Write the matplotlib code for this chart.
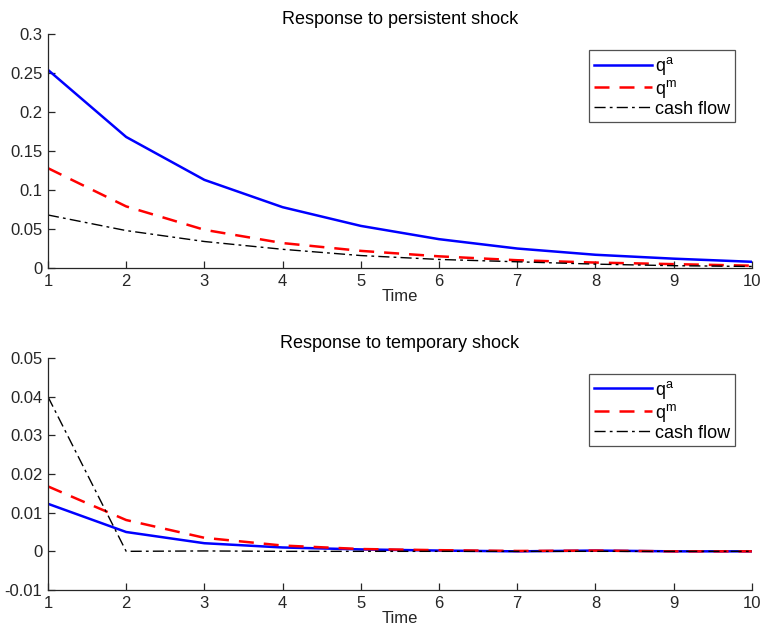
import matplotlib
matplotlib.use("Agg")
import matplotlib.pyplot as plt

plt.rcParams['font.family'] = ['Liberation Sans', 'DejaVu Sans']
plt.rcParams['mathtext.fontset'] = 'custom'
plt.rcParams['mathtext.rm'] = 'Liberation Sans'

time = [1, 2, 3, 4, 5, 6, 7, 8, 9, 10]

# Persistent shock
pers_qa = [0.254, 0.168, 0.113, 0.078, 0.054, 0.037, 0.025, 0.017, 0.012, 0.008]
pers_qm = [0.128, 0.079, 0.049, 0.032, 0.022, 0.015, 0.010, 0.007, 0.005, 0.003]
pers_cf = [0.068, 0.048, 0.034, 0.024, 0.016, 0.011, 0.008, 0.005, 0.003, 0.002]

# Temporary shock
temp_qa = [0.0123, 0.0050, 0.0021, 0.0010, 0.0005, 0.0002, 0.0000, 0.0002, 0.0000, 0.0000]
temp_qm = [0.0168, 0.0081, 0.0035, 0.0015, 0.0006, 0.0003, 0.0001, 0.0002, 0.0000, 0.0000]
temp_cf = [0.0400, 0.0000, 0.0001, 0.0000, 0.0000, 0.0000, 0.0000, 0.0000, 0.0000, 0.0000]

labels = [r'q$^{\mathrm{a}}$', r'q$^{\mathrm{m}}$', 'cash flow']
xticks = [1, 2, 3, 4, 5, 6, 7, 8, 9, 10]

fig = plt.figure(figsize=(7.61, 6.28), dpi=100)
ax1 = fig.add_axes([0.063, 0.5732, 0.925, 0.3727])
ax2 = fig.add_axes([0.063, 0.0605, 0.925, 0.3694])

def draw(ax, qa, qm, cf, title, ylim, yticks, yticklabels, legend_anchor):
    ax.plot(time, qa, color='#0000ff', lw=1.8, ls='-', label=labels[0])
    ax.plot(time, qm, color='#ff0000', lw=1.8, ls=(0, (6, 4)), label=labels[1])
    ax.plot(time, cf, color='black', lw=1.0, ls=(0, (8, 3, 2, 3)), label=labels[2])
    ax.set_xlim(1, 10)
    ax.set_ylim(*ylim)
    ax.set_xticks(xticks)
    ax.set_yticks(yticks)
    ax.set_yticklabels(yticklabels)
    ax.spines['top'].set_visible(False)
    ax.spines['right'].set_visible(False)
    for s in ('left', 'bottom'):
        ax.spines[s].set_color('#262626')
        ax.spines[s].set_linewidth(0.9)
    ax.tick_params(direction='in', length=5, width=0.9, colors='#262626', labelsize=12, pad=4)
    ax.set_xlabel('Time', fontsize=12, labelpad=0, color='#262626')
    ax.set_title(title, fontsize=13, pad=7)
    leg = ax.legend(loc='upper right', bbox_to_anchor=legend_anchor, fontsize=13,
                    frameon=True, fancybox=False, edgecolor='#262626', borderpad=0.25,
                    handlelength=3.2, handletextpad=0.2, labelspacing=0.05,
                    borderaxespad=0)
    leg.get_frame().set_linewidth(0.9)

draw(ax1, pers_qa, pers_qm, pers_cf, 'Response to persistent shock',
     (0, 0.3), [0, 0.05, 0.1, 0.15, 0.2, 0.25, 0.3],
     ['0', '0.05', '0.1', '0.15', '0.2', '0.25', '0.3'], (0.976, 0.93))
draw(ax2, temp_qa, temp_qm, temp_cf, 'Response to temporary shock',
     (-0.01, 0.05), [-0.01, 0, 0.01, 0.02, 0.03, 0.04, 0.05],
     ['-0.01', '0', '0.01', '0.02', '0.03', '0.04', '0.05'], (0.976, 0.93))

fig.savefig('out.png', dpi=100)
